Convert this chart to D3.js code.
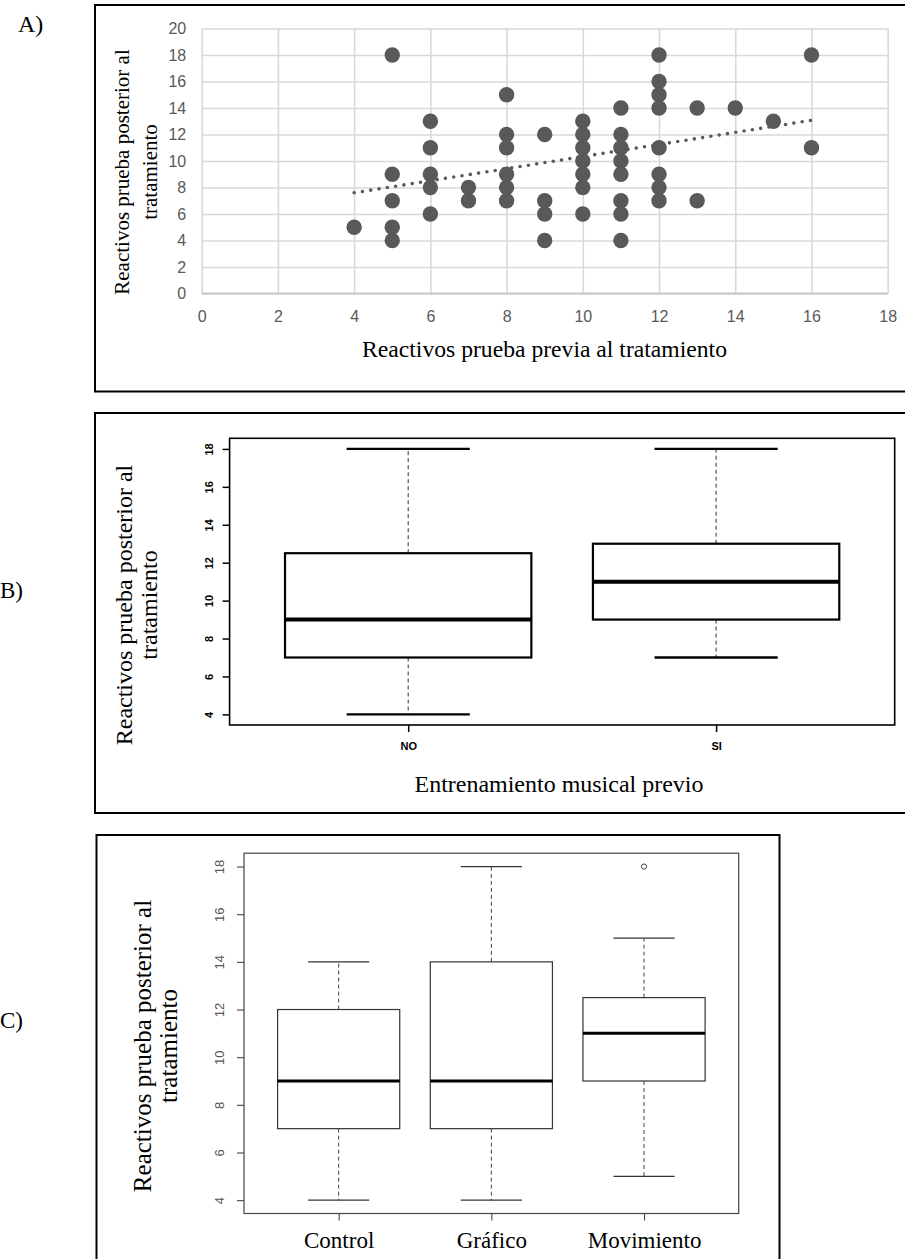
<!DOCTYPE html>
<html><head><meta charset="utf-8">
<script src="https://cdn.jsdelivr.net/npm/d3@7"></script>
<style>html,body{margin:0;padding:0;background:#fff;} svg{display:block;}</style>
</head><body>
<svg id="chart" width="905" height="1259"></svg>
<script>
// ---------- DATA ----------
// Panel A: scatter (pre-test vs post-test items)
const preScores  = [4, 5,5,5,5,5, 6,6,6,6,6, 7,7, 8,8,8,8,8,8, 9,9,9,9,
                    10,10,10,10,10,10,10, 11,11,11,11,11,11,11,11,
                    12,12,12,12,12,12,12,12, 13,13, 14, 15, 16,16];
const postScores = [5, 18,9,7,5,4, 13,11,9,8,6, 8,7, 15,12,11,9,8,7, 12,7,6,4,
                    13,12,11,10,9,8,6, 14,12,11,10,9,7,6,4,
                    18,16,15,14,11,9,8,7, 14,7, 14, 13, 18,11];
const trendPre  = [4, 16];
const trendPost = [7.6, 13.07];
const aTicksX = [0,2,4,6,8,10,12,14,16,18];
const aTicksY = [0,2,4,6,8,10,12,14,16,18,20];

// Panel B: boxplot by previous musical training
const musicGroups = ["NO", "SI"];
const musicMin    = [4, 7];
const musicQ1     = [7, 9];
const musicMedian = [9, 11];
const musicQ3     = [12.5, 13];
const musicMax    = [18, 18];

// Panel C: boxplot by treatment
const treatGroups = ["Control", "Gráfico", "Movimiento"];
const treatMin    = [4, 4, 5];
const treatQ1     = [7, 7, 9];
const treatMedian = [9, 9, 11];
const treatQ3     = [12, 14, 12.5];
const treatMax    = [14, 18, 15];
const treatOutGroup = ["Movimiento"];
const treatOutValue = [18];

const boxTicks = [4,6,8,10,12,14,16,18];

const yTitle1 = "Reactivos prueba posterior al";
const yTitle2 = "tratamiento";

// ---------- DRAW ----------
const svg = d3.select("#chart");
svg.append("rect").attr("width",905).attr("height",1259).attr("fill","#fff");
const SERIF = "'Liberation Serif','Times New Roman',serif";
const SANS = "'Liberation Sans',Arial,sans-serif";

function frame(x0,y0,x1,y1,closed){
  svg.append("path").attr("d",closed?`M${x0},${y0}H${x1}V${y1}H${x0}Z`:`M${x1},${y0}H${x0}V${y1}H${x1}`)
    .attr("fill","none").attr("stroke","#000").attr("stroke-width",2);
}
function rotTitle(cy, lines, xs, fs){
  lines.forEach((t,i)=>{
    svg.append("text").attr("transform",`translate(${xs[i]},${cy}) rotate(-90)`)
      .attr("text-anchor","middle").attr("font-family",SERIF).attr("font-size",fs)
      .attr("fill","#000").text(t);
  });
}

// ===== Panel A =====
frame(95,5,910,391.5,false);
svg.append("text").attr("x",18).attr("y",32).attr("font-family",SERIF).attr("font-size",24).text("A)");
const xA = d3.scaleLinear().domain([0,18]).range([201.7,887.7]);
const yA = d3.scaleLinear().domain([0,20]).range([293.5,28.5]);
const gA = svg.append("g");
gA.append("g").attr("transform",`translate(0,${yA(0)})`)
  .call(d3.axisBottom(xA).tickValues(aTicksX).tickSizeInner(-(yA(0)-yA(20))).tickSizeOuter(0).tickPadding(17))
  .call(g=>{g.select(".domain").remove();
            g.selectAll("line").attr("stroke","#d9d9d9").attr("stroke-width",1.6);
            g.selectAll("text").attr("font-family",SANS).attr("font-size",16).attr("fill","#595959");});
gA.append("g").attr("transform",`translate(${xA(0)},0)`)
  .call(d3.axisLeft(yA).tickValues(aTicksY).tickSizeInner(-(xA(18)-xA(0))).tickSizeOuter(0).tickPadding(15.5))
  .call(g=>{g.select(".domain").remove();
            g.selectAll("line").attr("stroke","#d9d9d9").attr("stroke-width",1.6);
            g.selectAll("text").attr("font-family",SANS).attr("font-size",16).attr("fill","#595959");});
gA.append("line").attr("x1",xA(0)).attr("x2",xA(18)).attr("y1",yA(0)).attr("y2",yA(0))
  .attr("stroke","#c8c8c8").attr("stroke-width",2);
// trendline
gA.append("line").attr("x1",xA(trendPre[0])).attr("y1",yA(trendPost[0]))
  .attr("x2",xA(trendPre[1])).attr("y2",yA(trendPost[1]))
  .attr("stroke","#595959").attr("stroke-width",3.6).attr("stroke-linecap","round")
  .attr("stroke-dasharray","0,8.4");
// points
gA.selectAll("circle.pt").data(preScores.map((p,i)=>[p,postScores[i]])).join("circle")
  .attr("class","pt").attr("cx",d=>xA(d[0])).attr("cy",d=>yA(d[1])).attr("r",7.7)
  .attr("fill","#595959");
rotTitle(172,[yTitle1,yTitle2],[129,157],21);
svg.append("text").attr("x",544.5).attr("y",357).attr("text-anchor","middle")
  .attr("font-family",SERIF).attr("font-size",23).attr("textLength",365).attr("lengthAdjust","spacingAndGlyphs")
  .text("Reactivos prueba previa al tratamiento");

// ===== generic boxplot =====
function boxplot(opt){
  const {groups,mn,q1,md,q3,mx,xr,yr,boxW,medW,capW,lineCol,boxCol,tickFs,tickBold,tickCol,tickX,xLabFs,xLabFont,xLabPad,plotW} = opt;
  const n = groups.length;
  const x = d3.scaleLinear().domain([0.5-0.04*n,n+0.5+0.04*n]).range(xr);
  const y = d3.scaleLinear().domain([4-0.04*14,18+0.04*14]).range(yr);
  const g = svg.append("g");
  const hw = x(1.4)-x(1), cw = x(1.2)-x(1);
  groups.forEach((grp,i)=>{
    const cx = x(i+1);
    g.append("line").attr("x1",cx).attr("x2",cx).attr("y1",y(q3[i])).attr("y2",y(mx[i]))
      .attr("stroke",lineCol).attr("stroke-width",1).attr("stroke-dasharray","4,3");
    g.append("line").attr("x1",cx).attr("x2",cx).attr("y1",y(q1[i])).attr("y2",y(mn[i]))
      .attr("stroke",lineCol).attr("stroke-width",1).attr("stroke-dasharray","4,3");
    g.append("line").attr("x1",cx-cw).attr("x2",cx+cw).attr("y1",y(mx[i])).attr("y2",y(mx[i]))
      .attr("stroke",boxCol).attr("stroke-width",capW);
    g.append("line").attr("x1",cx-cw).attr("x2",cx+cw).attr("y1",y(mn[i])).attr("y2",y(mn[i]))
      .attr("stroke",boxCol).attr("stroke-width",capW);
    g.append("rect").attr("x",cx-hw).attr("width",2*hw).attr("y",y(q3[i])).attr("height",y(q1[i])-y(q3[i]))
      .attr("fill","#fff").attr("stroke",boxCol).attr("stroke-width",boxW);
    g.append("line").attr("x1",cx-hw).attr("x2",cx+hw).attr("y1",y(md[i])).attr("y2",y(md[i]))
      .attr("stroke","#000").attr("stroke-width",medW);
  });
  g.append("rect").attr("x",xr[0]).attr("y",yr[1]).attr("width",xr[1]-xr[0]).attr("height",yr[0]-yr[1])
    .attr("fill","none").attr("stroke",opt.frameCol).attr("stroke-width",plotW);
  g.append("g").attr("transform",`translate(${xr[0]},0)`)
    .call(d3.axisLeft(y).tickValues(boxTicks).tickSize(7).tickFormat(d3.format("d")))
    .call(a=>{a.select(".domain").remove();
      a.selectAll("line").attr("stroke",opt.frameCol).attr("stroke-width",opt.tickW);
      a.selectAll("text").attr("x",null).attr("dy","0.35em").attr("text-anchor","middle")
        .attr("transform",`translate(${tickX},0) rotate(-90)`)
        .attr("font-family",SANS).attr("font-size",tickFs).attr("font-weight",tickBold?"bold":"normal").attr("fill",tickCol);});
  g.append("g").attr("transform",`translate(0,${yr[0]})`)
    .call(d3.axisBottom(x).tickValues(d3.range(1,n+1)).tickSize(7).tickPadding(xLabPad).tickFormat(d=>groups[d-1]))
    .call(a=>{a.select(".domain").remove();
      a.selectAll("line").attr("stroke",opt.frameCol).attr("stroke-width",opt.tickW);
      a.selectAll("text").attr("font-family",xLabFont).attr("font-size",xLabFs)
        .attr("font-weight",opt.xLabBold?"bold":"normal").attr("fill","#000");});
  return {x,y,g};
}

// ===== Panel B =====
frame(95,413,910,813,false);
svg.append("text").attr("x",0).attr("y",598).attr("font-family",SERIF).attr("font-size",23).text("B)");
boxplot({groups:musicGroups,mn:musicMin,q1:musicQ1,md:musicMedian,q3:musicQ3,mx:musicMax,
  xr:[229.6,894.7],yr:[725,438.3],boxW:2.2,medW:4,capW:2.4,lineCol:"#333",boxCol:"#000",
  frameCol:"#000",plotW:1.6,tickW:1.5,tickFs:11,tickBold:true,tickCol:"#000",tickX:-20,
  xLabFs:11,xLabFont:SANS,xLabPad:10.5,xLabBold:true});
rotTitle(605,[yTitle1,yTitle2],[132,157],24);
svg.append("text").attr("x",559).attr("y",792).attr("text-anchor","middle")
  .attr("font-family",SERIF).attr("font-size",23).attr("textLength",289).attr("lengthAdjust","spacingAndGlyphs")
  .text("Entrenamiento musical previo");

// ===== Panel C =====
frame(96.5,835,779.5,1266,true);
svg.append("text").attr("x",0).attr("y",1028).attr("font-family",SERIF).attr("font-size",23).text("C)");
const C = boxplot({groups:treatGroups,mn:treatMin,q1:treatQ1,md:treatMedian,q3:treatQ3,mx:treatMax,
  xr:[244,738.7],yr:[1213.5,853.2],boxW:1.2,medW:3,capW:1.2,lineCol:"#444",boxCol:"#333",
  frameCol:"#444",plotW:1.2,tickW:1.1,tickFs:13,tickBold:false,tickCol:"#555",tickX:-24.5,
  xLabFs:23,xLabFont:SERIF,xLabPad:11,xLabBold:false});
C.g.selectAll("circle.out").data(treatOutGroup.map((g,i)=>[treatGroups.indexOf(g)+1,treatOutValue[i]]))
  .join("circle").attr("class","out").attr("cx",d=>C.x(d[0])).attr("cy",d=>C.y(d[1])).attr("r",2.6)
  .attr("fill","none").attr("stroke","#444").attr("stroke-width",1);
rotTitle(1046,[yTitle1,yTitle2],[151,177],25);
</script>
</body></html>
